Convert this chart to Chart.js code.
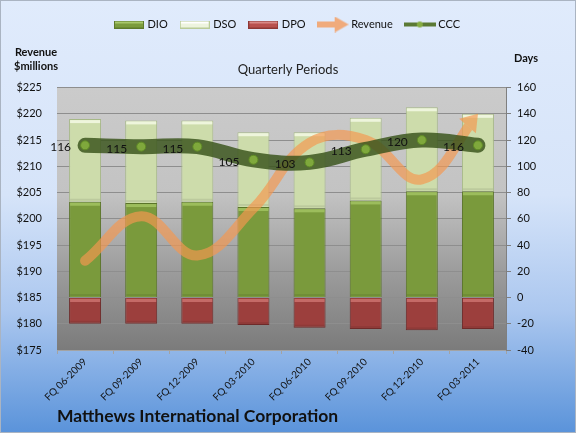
<!DOCTYPE html>
<html lang="en">
<head>
<meta charset="UTF-8">
<title>Matthews International Corporation - Cash Conversion Cycle</title>
<style>
  html, body { margin: 0; padding: 0; background: #fff; }
  #wrap { width: 576px; height: 433px; }
</style>
</head>
<body>
<div id="wrap"><canvas id="cccChart" width="576" height="433"></canvas></div>

<script src="https://cdn.jsdelivr.net/npm/chart.js"></script>
<script>
// quarterly periods
const periods = ['FQ 06-2009', 'FQ 09-2009', 'FQ 12-2009', 'FQ 03-2010',
                 'FQ 06-2010', 'FQ 09-2010', 'FQ 12-2010', 'FQ 03-2011'];

// days (right axis)
const dio = [73, 72, 73, 69, 68, 74, 81, 81];
const dso = [63, 63, 62, 57, 58, 63, 64, 59];
const dpo = [-20, -20, -20, -21, -23, -24, -25, -24];
const ccc = [116, 115, 115, 105, 103, 113, 120, 116];

// revenue, $ millions (left axis)
const revenue = [192, 200.5, 193, 202, 214.5, 215, 207.5, 220];

// axis ticks
const revenueTicks = [175, 180, 185, 190, 195, 200, 205, 210, 215, 220, 225];
const dayTicks = [-40, -20, 0, 20, 40, 60, 80, 100, 120, 140, 160];

Chart.defaults.font.family = 'Lato, "Open Sans", sans-serif';
Chart.defaults.color = '#111';

// small canvases used as legend symbols
function legendSwatch(fill, light, edge) {
  const c = document.createElement('canvas');
  c.width = 30; c.height = 8;
  const g = c.getContext('2d');
  g.fillStyle = fill; g.fillRect(0, 0, 30, 8);
  g.fillStyle = light; g.fillRect(1, 1, 28, 2);
  g.strokeStyle = edge; g.strokeRect(0.5, 0.5, 29, 7);
  return c;
}
function legendArrow() {
  const c = document.createElement('canvas');
  c.width = 32; c.height = 16;
  const g = c.getContext('2d');
  g.fillStyle = '#f0ab7c';
  g.fillRect(0, 5, 20, 6);
  g.beginPath(); g.moveTo(18, 0); g.lineTo(32, 8); g.lineTo(18, 16); g.closePath(); g.fill();
  return c;
}
function legendCccLine() {
  const c = document.createElement('canvas');
  c.width = 32; c.height = 8;
  const g = c.getContext('2d');
  g.fillStyle = '#5b7a35'; g.fillRect(0, 2, 32, 4);
  g.fillStyle = '#86ad42'; g.beginPath(); g.arc(16, 4, 3, 0, Math.PI * 2); g.fill();
  return c;
}
const legendIcons = {
  'DIO': legendSwatch('#7b9c3d', '#a9c96c', '#5d7a2b'),
  'DSO': legendSwatch('#edf4de', '#ffffff', '#b9cb98'),
  'DPO': legendSwatch('#b9514e', '#d98987', '#8d3735'),
  'Revenue': legendArrow(),
  'CCC': legendCccLine()
};

const barShine = { 'DIO': '#9cbd5c', 'DSO': '#eef5dc', 'DPO': '#c56a67' };

// backgrounds + outer frame
const backdrop = {
  id: 'backdrop',
  beforeDraw(chart) {
    const { ctx, width, height, chartArea: a } = chart;
    ctx.save();
    let g = ctx.createLinearGradient(0, 0, 0, height);
    g.addColorStop(0, '#e0ebfc');
    g.addColorStop(0.45, '#d6e4f9');
    g.addColorStop(0.72, '#abc7ef');
    g.addColorStop(1, '#5a93da');
    ctx.fillStyle = g;
    ctx.fillRect(0, 0, width, height);

    g = ctx.createLinearGradient(0, a.top, 0, a.bottom);
    g.addColorStop(0, '#cbcbcb');
    g.addColorStop(0.4, '#c3c3c3');
    g.addColorStop(0.7, '#9c9c9c');
    g.addColorStop(1, '#7b7b7b');
    ctx.fillStyle = g;
    ctx.fillRect(a.left, a.top, a.right - a.left, a.bottom - a.top);

    ctx.strokeStyle = '#aab4c2';
    ctx.lineWidth = 1;
    ctx.strokeRect(0.5, 0.5, width - 1, height - 1);
    ctx.restore();
  }
};

// light top edge on each bar segment
const bevel = {
  id: 'bevel',
  afterDatasetDraw(chart, args) {
    const ds = chart.data.datasets[args.index];
    if (ds.type !== 'bar') return;
    const { ctx } = chart;
    ctx.save();
    args.meta.data.forEach(bar => {
      const top = Math.min(bar.y, bar.base);
      const bottom = Math.max(bar.y, bar.base);
      const left = bar.x - bar.width / 2;
      ctx.fillStyle = barShine[ds.label];
      ctx.fillRect(left + 1, top + 1, bar.width - 2, 3);
      ctx.fillStyle = 'rgba(0,0,0,0.08)';
      ctx.fillRect(left + 1, bottom - 3, bar.width - 2, 2);
    });
    ctx.restore();
  }
};

// arrow head at the end of the revenue line
function arrowGeom(meta) {
  const pts = meta.data;
  const tip = pts[pts.length - 1];
  let fx = tip.cp1x, fy = tip.cp1y;
  if (fx === undefined || (Math.abs(fx - tip.x) < 0.5 && Math.abs(fy - tip.y) < 0.5)) {
    fx = pts[pts.length - 2].x; fy = pts[pts.length - 2].y;
  }
  let dx = tip.x - fx, dy = tip.y - fy;
  const len = Math.hypot(dx, dy) || 1;
  dx /= len; dy /= len;
  const L = 16;
  return { tx: tip.x, ty: tip.y, bx: tip.x - dx * L, by: tip.y - dy * L, dx, dy, nx: -dy, ny: dx };
}
const revenueArrow = {
  id: 'revenueArrow',
  beforeDatasetDraw(chart, args) {
    if (chart.data.datasets[args.index].label !== 'Revenue') return;
    const h = arrowGeom(args.meta);
    const ctx = chart.ctx;
    const far = 3000;
    ctx.save();
    ctx.beginPath();
    ctx.moveTo(h.bx + h.nx * far, h.by + h.ny * far);
    ctx.lineTo(h.bx - h.nx * far, h.by - h.ny * far);
    ctx.lineTo(h.bx - h.nx * far - h.dx * far, h.by - h.ny * far - h.dy * far);
    ctx.lineTo(h.bx + h.nx * far - h.dx * far, h.by + h.ny * far - h.dy * far);
    ctx.closePath();
    ctx.clip();
  },
  afterDatasetDraw(chart, args) {
    const ds = chart.data.datasets[args.index];
    if (ds.label !== 'Revenue') return;
    const ctx = chart.ctx;
    ctx.restore();
    const h = arrowGeom(args.meta);
    const w = 11;
    ctx.save();
    ctx.fillStyle = ds.borderColor;
    ctx.beginPath();
    ctx.moveTo(h.tx, h.ty);
    ctx.lineTo(h.bx + h.nx * w, h.by + h.ny * w);
    ctx.lineTo(h.bx - h.nx * w, h.by - h.ny * w);
    ctx.closePath();
    ctx.fill();
    ctx.restore();
  }
};

// CCC values, axis captions, company name
const captions = {
  id: 'captions',
  afterDatasetsDraw(chart) {
    const ctx = chart.ctx;
    const idx = chart.data.datasets.findIndex(d => d.label === 'CCC');
    const meta = chart.getDatasetMeta(idx);
    ctx.save();
    ctx.font = '12px Lato, "Open Sans", sans-serif';
    ctx.fillStyle = '#111';
    ctx.textAlign = 'right';
    ctx.textBaseline = 'middle';
    meta.data.forEach((p, i) => ctx.fillText(String(ccc[i]), p.x - 14, p.y + 2));
    ctx.restore();
  },
  afterDraw(chart) {
    const ctx = chart.ctx;
    ctx.save();
    ctx.fillStyle = '#111';
    ctx.textBaseline = 'middle';
    ctx.textAlign = 'center';
    ctx.font = 'bold 11px Lato, "Open Sans", sans-serif';
    ctx.fillText('Revenue', 36, 52);
    ctx.fillText('$millions', 36, 66);
    ctx.fillText('Days', 526, 58);
    ctx.textAlign = 'left';
    ctx.font = 'bold 17.5px Lato, "Open Sans", sans-serif';
    ctx.fillText('Matthews International Corporation', 57, 416);
    ctx.restore();
  }
};

const ctx = document.getElementById('cccChart').getContext('2d');
const cccChart = new Chart(ctx, {
  data: {
    labels: periods,
    datasets: [
      {
        type: 'bar', label: 'DIO', data: dio, yAxisID: 'y1', stack: 'days', order: 2,
        backgroundColor: '#7a9a3c', borderColor: '#5a7429', borderWidth: 1,
        barPercentage: 0.57, categoryPercentage: 1
      },
      {
        type: 'bar', label: 'DSO', data: dso, yAxisID: 'y1', stack: 'days', order: 2,
        backgroundColor: '#cddcab', borderColor: '#a7b988', borderWidth: 1,
        barPercentage: 0.57, categoryPercentage: 1
      },
      {
        type: 'bar', label: 'DPO', data: dpo, yAxisID: 'y1', stack: 'days', order: 2,
        backgroundColor: '#9c3f3d', borderColor: '#6f2b2a', borderWidth: 1,
        barPercentage: 0.57, categoryPercentage: 1
      },
      {
        type: 'line', label: 'Revenue', data: revenue, yAxisID: 'y', order: 1,
        borderColor: 'rgba(245, 152, 80, 0.68)', borderWidth: 10,
        borderCapStyle: 'round', tension: 0.4, pointRadius: 0, fill: false
      },
      {
        type: 'line', label: 'CCC', data: ccc, yAxisID: 'y1', order: 0,
        borderColor: 'rgba(58, 84, 28, 0.83)', borderWidth: 15,
        borderCapStyle: 'round', tension: 0.4, fill: false,
        pointRadius: 4.5, pointBackgroundColor: '#7fa83c', pointBorderColor: '#5f8a26', pointBorderWidth: 1
      }
    ]
  },
  options: {
    responsive: false,
    animation: false,
    layout: { padding: { top: 5, left: 0, right: 0, bottom: 0 } },
    plugins: {
      legend: {
        position: 'top',
        labels: {
          usePointStyle: true,
          pointStyleWidth: 26,
          padding: 14,
          font: { size: 11 },
          color: '#111',
          generateLabels: (chart) => chart.data.datasets.map((d, i) => ({
            text: d.label,
            datasetIndex: i,
            pointStyle: legendIcons[d.label],
            fillStyle: 'transparent',
            strokeStyle: 'transparent',
            lineWidth: 0,
            hidden: false,
            fontColor: '#111'
          }))
        }
      },
      title: {
        display: true,
        text: 'Quarterly Periods',
        weight: 500,
        font: { size: 13, weight: 'normal' },
        color: '#222',
        padding: { top: 22, bottom: 10 }
      },
      tooltip: { enabled: false }
    },
    scales: {
      x: {
        offset: true,
        grid: { offset: true, drawOnChartArea: false, tickLength: 4, color: '#a3a3a3' },
        border: { color: '#a3a3a3' },
        ticks: { autoSkip: false, minRotation: 45, maxRotation: 45, padding: 2, font: { size: 10 }, color: '#111' },
        afterFit: (s) => { s.height = 83; }
      },
      y: {
        position: 'left',
        min: revenueTicks[0],
        max: revenueTicks[revenueTicks.length - 1],
        grid: { color: '#8e8e8e', drawTicks: false },
        border: { display: false },
        ticks: {
          stepSize: revenueTicks[1] - revenueTicks[0],
          padding: 15,
          font: { size: 11 },
          color: '#111',
          callback: (v) => '$' + v
        },
        afterFit: (s) => { s.width = 57; }
      },
      y1: {
        position: 'right',
        min: dayTicks[0],
        max: dayTicks[dayTicks.length - 1],
        grid: { drawOnChartArea: false, tickLength: 5, color: '#7f7f7f' },
        border: { color: '#7f7f7f' },
        ticks: { stepSize: dayTicks[1] - dayTicks[0], padding: 6, font: { size: 11 }, color: '#111' },
        afterFit: (s) => { s.width = 70; }
      }
    }
  },
  plugins: [backdrop, bevel, revenueArrow, captions]
});
</script>
</body>
</html>
